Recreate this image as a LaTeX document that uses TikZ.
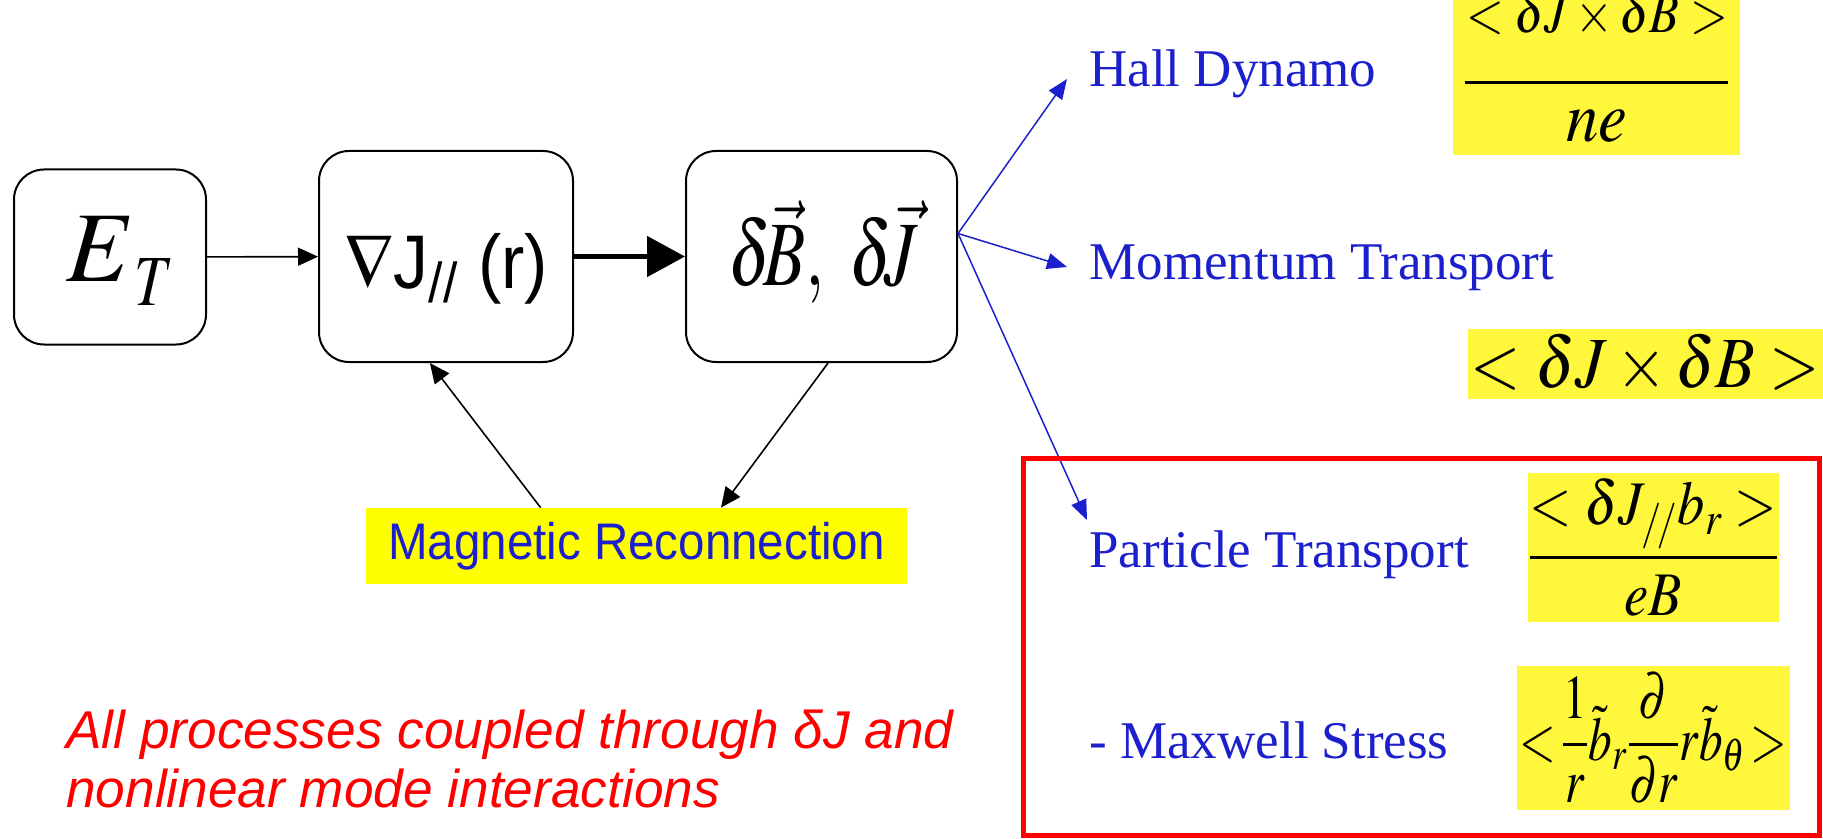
\documentclass[tikz,border=0pt]{standalone}
\usepackage{mathptmx}
\usepackage{graphicx}
\usepackage{fontspec}
\setmainfont{Liberation Serif}
\newfontfamily\arialf{Liberation Sans}
\usetikzlibrary{arrows.meta,calc}
\definecolor{txtblue}{RGB}{28,32,204}
\definecolor{hl}{RGB}{255,247,59}
\definecolor{mryel}{RGB}{255,255,0}
\definecolor{redc}{RGB}{255,0,0}
\begin{document}
\begin{tikzpicture}[x=0.5pt,y=-0.5pt,
  box/.style={draw=black,line width=1pt,rounded corners=15pt,fill=white,inner sep=0pt},
  lbl/.style={text=txtblue,font=\fontsize{26.5}{30}\selectfont,anchor=base west,inner sep=0pt},
  hlbox/.style={fill=hl,inner sep=0pt},
  blk/.style={draw=black,line width=0.8pt,-{Triangle[length=10pt,width=9pt]}},
  blu/.style={draw=txtblue,line width=0.75pt,-{Triangle[length=10pt,width=8pt]}},
  note/.style={anchor=base west,inner sep=0pt,text=redc,font=\arialf\itshape\fontsize{26.6}{30}\selectfont}]
\useasboundingbox (0,0) rectangle (1823,839);

% main boxes
\node[box,minimum width=96pt,minimum height=87.5pt] (ET) at (110,257) {};
\node[inner sep=0pt] (ETtxt) at ($(ET)+(10,4)$) {\fontsize{50}{56}\selectfont$E$\raisebox{-12pt}{\scalebox{0.8}[1]{\fontsize{36}{40}\selectfont$T$}}};
\node[box,minimum width=127pt,minimum height=105.5pt] (grad) at (446,256.5) {};
\node[inner sep=0pt] (gradtxt) at ($(grad)+(0,12)$) {\scalebox{0.92}[1]{\arialf\fontsize{38}{42}\selectfont$\nabla$J\textsubscript{//} (r)}};
\node[box,minimum width=135.5pt,minimum height=105.5pt] (dB) at (821.5,256.5) {};
\node[inner sep=0pt] (dBtxt) at ($(dB)+(2,-4)$) {\scalebox{0.75}[1]{\fontsize{46}{52}\selectfont$\delta\!\vec{B},\ \delta\!\vec{J}$}};
\node[fill=mryel,minimum width=270.5pt,minimum height=38pt,inner sep=0pt,text=txtblue,font=\arialf\fontsize{24.5}{28}\selectfont] (MR) at (636.5,546) {\scalebox{0.97}[1.05]{Magnetic Reconnection}};

% black connectors
\draw[blk] (ET) -- (grad);
\draw[line width=2.5pt,-{Triangle[length=19pt,width=20pt]}] (grad) -- (dB);
\draw[blk] ($(MR.north west)!0.323!(MR.north east)$) -- ($(grad.south west)!0.437!(grad.south east)$);
\draw[blk] ($(dB.south west)!0.524!(dB.south east)$) -- ($(MR.north west)!0.656!(MR.north east)$);

% right-hand labels
\node[lbl] (hall) at (1089,87) {Hall Dynamo};
\node[lbl] (mom) at (1089,280) {Momentum Transport};
\node[lbl] (part) at (1089,567) {Particle Transport};
\node[lbl] (maxw) at (1089,758) {- Maxwell Stress};

% blue connectors
\coordinate (src) at ($(dB.east)+(0,-23)$);
\coordinate (tHall) at (1067,79);
\coordinate (tMom) at (1067,267);
\coordinate (tPart) at (1087,520);
\draw[blu] (src) -- (tHall);
\draw[blu] (src) -- (tMom);
\draw[blu] (src) -- (tPart);

% red frame
\node[draw=redc,line width=2.5pt,minimum width=398pt,minimum height=188.5pt,inner sep=0pt] (frame) at (1421,646.5) {};

% formula boxes
\node[hlbox,minimum width=143.5pt,minimum height=82.5pt] (hallbox) at (1596.5,72.5) {};
\node[anchor=base,inner sep=0pt,font=\fontsize{27}{30}\selectfont] (hallnum) at (1597,33) {\scalebox{0.9}[1.05]{$<\delta J\times\delta B>$}};
\draw[line width=1.5pt] ($(hallbox.west)+(12,10.5)$) -- ($(hallbox.east)+(-12,10.5)$);
\node[anchor=base,inner sep=0pt,font=\fontsize{36}{40}\selectfont] (hallden) at (1597,142) {\scalebox{0.9}[1]{$ne$}};

\node[hlbox,minimum width=177.5pt,minimum height=35pt] (momf) at (1645.5,364) {\scalebox{0.9}[1]{\fontsize{36}{40}\selectfont$<\delta J\times\delta B>$}};
\node[hlbox,minimum width=121.5pt,minimum height=74.5pt] (partf) at (1653.5,547.5) {\scalebox{0.88}[1]{\fontsize{31}{34}\selectfont$\displaystyle\frac{<\delta J_{/\!/}b_r>}{eB}$}};
\node[hlbox,minimum width=136.5pt,minimum height=72pt] (maxwf) at (1653.5,738) {\scalebox{0.76}[1]{\fontsize{31}{34}\selectfont$<\!\displaystyle\frac{1}{r}\tilde{b}_r\frac{\partial}{\partial r}r\tilde{b}_\theta\!>$}};

% red note
\node[note] (note1) at (66,748) {All processes coupled through δJ and};
\node[note] (note2) at (66,807) {nonlinear mode interactions};
\end{tikzpicture}
\end{document}
